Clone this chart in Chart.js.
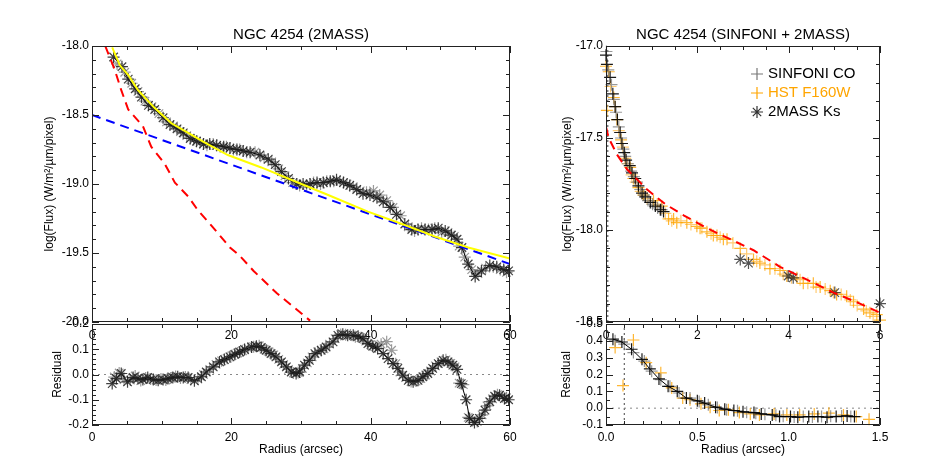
<!DOCTYPE html>
<html lang="en">
<head>
<meta charset="utf-8">
<title>NGC 4254 light profiles</title>
<script src="https://cdn.jsdelivr.net/npm/chart.js@4"></script>
<style>
  body { margin: 0; background: #fff; }
  .wrap { position: relative; width: 926px; height: 463px; }
  .wrap canvas { position: absolute; left: 0; top: 0; width: 926px; height: 463px; }
</style>
</head>
<body>
<div class="wrap">
  <canvas id="leftTop" width="926" height="463"></canvas>
  <canvas id="leftRes" width="926" height="463"></canvas>
  <canvas id="rightTop" width="926" height="463"></canvas>
  <canvas id="rightRes" width="926" height="463"></canvas>
</div>
<script>
// ---- 2MASS profile (left panel), radius in arcsec, log flux ----
const massR  = [3.1,4.3,5.2,6.2,7.1,8.1,9.0,10.2,11.2,12.2,13.1,14.1,15.0,16.0,16.9,17.9,18.9,19.8,20.8,21.7,22.7,24.1,25.3,26.3,27.2,28.2,29.4,30.3,31.3,32.3,33.2,34.2,35.1,36.1,37.0,38.0,38.9,39.9,40.9,41.8,42.8,43.7,44.9,45.9,46.8,47.8,48.8,49.7,50.7,51.6,52.4,53.1,54.0,55.0,55.9,57.1,58.1,59.1,59.8];
const massF  = [-18.08,-18.15,-18.24,-18.31,-18.37,-18.43,-18.46,-18.52,-18.57,-18.60,-18.63,-18.67,-18.69,-18.71,-18.71,-18.72,-18.73,-18.74,-18.75,-18.76,-18.77,-18.79,-18.82,-18.86,-18.91,-18.96,-19.00,-19.00,-19.00,-18.99,-18.99,-18.98,-18.97,-18.99,-19.01,-19.04,-19.07,-19.08,-19.10,-19.13,-19.17,-19.22,-19.29,-19.33,-19.33,-19.33,-19.33,-19.32,-19.34,-19.37,-19.40,-19.46,-19.58,-19.67,-19.63,-19.59,-19.60,-19.62,-19.63];
const massR2 = [3.6,4.7,5.7,6.6,7.6,8.6,9.6,10.7,11.7,12.7,13.6,14.6,15.5,16.5,17.4,18.4,19.3,20.3,21.2,22.2,23.4,24.7,25.8,26.8,27.7,28.8,29.8,30.8,31.8,32.8,33.7,34.7,35.6,36.6,37.5,38.5,39.4,40.4,41.3,42.3,43.2,44.3,45.4,46.3,47.3,48.3,49.2,50.2,51.1,52.0,52.7,53.5,54.5,55.4,56.5,57.6,58.6,59.5];
const massF2 = [-18.13,-18.19,-18.27,-18.33,-18.40,-18.44,-18.49,-18.55,-18.58,-18.62,-18.65,-18.68,-18.70,-18.72,-18.71,-18.73,-18.73,-18.75,-18.75,-18.77,-18.77,-18.81,-18.84,-18.89,-18.94,-18.99,-19.01,-19.01,-18.99,-19.00,-18.98,-18.98,-18.98,-19.00,-19.02,-19.05,-19.06,-19.05,-19.08,-19.12,-19.17,-19.23,-19.31,-19.34,-19.32,-19.33,-19.32,-19.35,-19.35,-19.38,-19.45,-19.53,-19.62,-19.65,-19.61,-19.60,-19.62,-19.64];

// model components (left panel)
const totalR = [2.9,4.0,5.2,6.6,9.0,11.4,13.8,16.2,19.5,24.3,29.1,33.9,39.6,44.5,49.2,54.0,60];
const totalF = [-18.01,-18.14,-18.21,-18.32,-18.45,-18.56,-18.63,-18.70,-18.79,-18.88,-18.98,-19.08,-19.20,-19.29,-19.38,-19.46,-19.54];
const diskR  = [0, 60];
const diskF  = [-18.5, -19.58];
const bulgeR = [1.9,3.25,4.2,5.2,7.3,8.5,10.4,11.9,13.8,15.2,16.6,18.3,19.8,21.2,23.2,26.5,28.9,31.3];
const bulgeF = [-18.0,-18.17,-18.32,-18.46,-18.58,-18.73,-18.85,-18.99,-19.09,-19.19,-19.27,-19.37,-19.46,-19.52,-19.63,-19.79,-19.89,-19.99];

// residuals (left panel)
const resR  = [2.9,3.5,4.2,5.1,5.9,6.6,7.3,8.0,8.8,9.5,10.2,10.9,11.6,12.3,13.1,13.8,14.7,15.7,16.4,17.4,18.3,19.0,19.8,20.5,21.2,21.9,22.9,23.6,24.3,25.0,25.7,26.4,27.2,27.9,28.6,29.3,29.8,30.5,31.2,32.0,32.9,33.6,34.6,35.3,36.0,36.7,37.5,38.2,38.9,39.6,40.3,41.0,41.8,42.5,43.2,43.9,44.6,45.4,46.1,46.8,47.5,48.2,48.9,49.7,50.4,51.1,51.8,52.4,53.0,53.7,54.2,54.9,55.6,56.4,57.1,57.8,58.5,59.2,59.8];
const resV  = [-0.036,-0.016,0.004,-0.029,-0.012,-0.016,-0.020,-0.012,-0.020,-0.023,-0.020,-0.016,-0.012,-0.009,-0.012,-0.012,-0.025,-0.009,0.010,0.030,0.050,0.059,0.070,0.080,0.089,0.099,0.109,0.112,0.107,0.096,0.083,0.070,0.050,0.030,0.010,0.004,0.010,0.037,0.056,0.083,0.096,0.109,0.129,0.155,0.159,0.155,0.155,0.151,0.142,0.122,0.112,0.103,0.083,0.063,0.043,0.024,-0.003,-0.023,-0.029,-0.023,-0.009,0.004,0.024,0.043,0.056,0.050,0.037,0.020,-0.036,-0.100,-0.174,-0.190,-0.174,-0.141,-0.108,-0.086,-0.082,-0.095,-0.100];
const resR2 = [3.2,3.9,4.6,5.5,6.2,7.0,7.7,8.4,9.2,9.9,10.6,11.3,12.0,12.7,13.4,14.2,15.2,16.0,16.9,17.8,18.6,19.4,20.1,20.9,21.6,22.4,23.2,24.0,24.7,25.4,26.1,26.8,27.5,28.2,28.9,29.6,30.2,30.9,31.6,32.4,33.3,34.1,34.9,35.7,36.4,37.1,37.8,38.6,39.3,40.0,40.7,41.5,42.3,43.0,43.6,44.2,45.0,45.8,46.5,47.2,47.9,48.6,49.3,50.1,50.8,51.5,52.1,52.7,53.3,54.0,54.6,55.3,56.0,56.7,57.5,58.2,58.9,59.5];
const resV2 = [-0.010,0.006,-0.020,-0.022,-0.006,-0.024,-0.014,-0.018,-0.022,-0.018,-0.022,-0.014,-0.008,-0.014,-0.010,-0.020,-0.018,0.000,0.020,0.040,0.054,0.064,0.075,0.085,0.094,0.104,0.110,0.114,0.100,0.090,0.078,0.060,0.040,0.020,0.006,0.008,0.024,0.046,0.070,0.090,0.102,0.120,0.142,0.158,0.157,0.156,0.150,0.146,0.132,0.118,0.110,0.120,0.130,0.096,0.043,0.010,-0.012,-0.028,-0.026,-0.016,-0.002,0.014,0.034,0.050,0.058,0.044,0.030,-0.034,-0.040,-0.170,-0.182,-0.186,-0.160,-0.124,-0.096,-0.080,-0.088,-0.092];

// ---- SINFONI + 2MASS (right panel) ----
const sinR  = [0.0,0.02,0.09,0.15,0.2,0.25,0.31,0.35,0.4,0.44,0.52,0.57,0.64,0.71,0.79,0.86,0.97,1.08,1.19,1.26];
const sinF  = [-17.05,-17.10,-17.17,-17.26,-17.33,-17.40,-17.47,-17.53,-17.58,-17.62,-17.65,-17.69,-17.72,-17.76,-17.80,-17.82,-17.85,-17.87,-17.89,-17.90];
const sinR2 = [0.01,0.05,0.12,0.17,0.22,0.28,0.33,0.38,0.42,0.48,0.55,0.61,0.68,0.75,0.83,0.92,1.02,1.13,1.22];
const sinF2 = [-17.03,-17.13,-17.21,-17.29,-17.36,-17.44,-17.50,-17.56,-17.60,-17.64,-17.68,-17.71,-17.74,-17.78,-17.81,-17.84,-17.86,-17.88,-17.89];
const hstR  = [0.0,0.02,0.06,0.17,0.24,0.33,0.42,0.53,0.60,0.71,0.82,1.04,1.22,1.37,1.48,1.55,1.77,1.99,2.06,2.21,2.35,2.43,2.57,2.65,2.94,3.23,3.37,3.59,3.81,3.96,4.18,4.32,4.54,4.69,4.91,5.05,5.27,5.42,5.64,5.78,5.93,6.0];
const hstF  = [-17.11,-17.35,-17.14,-17.28,-17.40,-17.51,-17.61,-17.66,-17.72,-17.77,-17.81,-17.84,-17.87,-17.94,-17.94,-17.96,-17.96,-17.98,-17.99,-18.01,-18.03,-18.03,-18.05,-18.05,-18.10,-18.16,-18.18,-18.21,-18.22,-18.25,-18.26,-18.29,-18.29,-18.31,-18.33,-18.35,-18.36,-18.39,-18.43,-18.45,-18.46,-18.49];
const hstR2 = [0.1,0.2,0.28,0.37,0.47,0.56,0.65,0.76,0.9,1.12,1.3,1.44,1.64,1.86,2.1,2.3,2.5,2.78,3.08,3.3,3.48,3.7,3.88,4.06,4.25,4.42,4.6,4.8,4.98,5.15,5.35,5.5,5.7,5.85];
const hstF2 = [-17.22,-17.33,-17.46,-17.55,-17.64,-17.70,-17.74,-17.79,-17.83,-17.86,-17.91,-17.95,-17.95,-17.97,-17.99,-18.02,-18.04,-18.07,-18.13,-18.17,-18.19,-18.21,-18.24,-18.26,-18.27,-18.29,-18.31,-18.32,-18.34,-18.35,-18.38,-18.41,-18.44,-18.47];
const ksR   = [2.94,3.12,3.99,4.10,5.01,6.0];
const ksF   = [-18.16,-18.18,-18.25,-18.26,-18.34,-18.40];
const fitR  = [0,0.06,0.24,0.46,0.9,1.3,1.7,2.21,2.72,3.23,3.81,4.4,4.98,5.56,6.0];
const fitF  = [-17.44,-17.50,-17.59,-17.67,-17.78,-17.86,-17.92,-17.99,-18.05,-18.11,-18.20,-18.27,-18.34,-18.40,-18.45];

// residuals (right panel)
const rsR   = [0.038,0.087,0.14,0.197,0.24,0.29,0.34,0.39,0.44,0.50,0.54,0.60,0.65,0.70,0.75,0.81,0.85,0.91,0.95,1.01,1.05,1.11,1.16,1.21,1.26,1.32,1.36];
const rsV   = [0.41,0.393,0.35,0.29,0.233,0.174,0.13,0.10,0.06,0.044,0.03,0.006,-0.006,-0.014,-0.022,-0.026,-0.034,-0.04,-0.05,-0.05,-0.054,-0.05,-0.05,-0.054,-0.05,-0.046,-0.05];
const rsR2  = [0.05,0.10,0.15,0.21,0.25,0.30,0.35,0.40,0.46,0.51,0.56,0.61,0.66,0.72,0.77,0.82,0.87,0.93,0.97,1.03,1.08,1.13,1.18,1.23,1.29,1.34];
const rsV2  = [0.40,0.38,0.33,0.28,0.22,0.17,0.13,0.09,0.06,0.04,0.02,0.004,-0.01,-0.016,-0.024,-0.03,-0.036,-0.042,-0.048,-0.052,-0.05,-0.052,-0.05,-0.048,-0.046,-0.05];
const rhR   = [0.05,0.093,0.15,0.22,0.30,0.36,0.42,0.46,0.52,0.57,0.62,0.67,0.73,0.79,0.84,0.92,0.99,1.06,1.14,1.22,1.30,1.37,1.44];
const rhV   = [0.36,0.134,0.405,0.27,0.21,0.12,0.06,0.05,0.026,0.006,-0.014,-0.01,-0.026,-0.034,-0.04,-0.034,-0.04,-0.04,-0.034,-0.03,-0.04,-0.05,-0.066];

// axis ranges / tick steps
const fluxTitle = 'log(Flux) (W/m\u00b2/\u00b5m/pixel)';
const ORANGE = 'rgb(255,165,0)';

Chart.defaults.font.family = '"Liberation Sans", Arial, Helvetica, sans-serif';
Chart.defaults.font.size = 12;
Chart.defaults.color = '#000';

const pts = (xs, ys) => xs.map((x, i) => ({ x: x, y: ys[i] }));
const fmt0 = v => v.toFixed(0);
const fmt1 = v => (Math.abs(v) < 1e-9 ? 0 : v).toFixed(1);

function marks(xs, ys, style, color, line) {
  return {
    data: pts(xs, ys), pointStyle: style, pointRadius: 6, pointBorderWidth: 1.2,
    pointBorderColor: color, pointBackgroundColor: color,
    showLine: !!line, borderColor: line || color, borderWidth: 1, clip: 6
  };
}
function curve(xs, ys, color, dash, width) {
  return {
    data: pts(xs, ys), showLine: true, pointRadius: 0, borderColor: color,
    borderWidth: width || 2, borderDash: dash || []
  };
}

// IDL style box with inward ticks on all four sides
const idlFrame = {
  id: 'idlFrame',
  afterDraw(chart, args, o) {
    const { ctx, chartArea: a } = chart;
    ctx.save();
    ctx.strokeStyle = '#222';
    ctx.lineWidth = 1;
    ctx.beginPath();
    ctx.rect(Math.round(a.left) + 0.5, Math.round(a.top) + 0.5, Math.round(a.width) - 1, Math.round(a.height) - 1);
    const tickMarks = (sc, minor, major, horiz) => {
      const n = Math.round((sc.max - sc.min) / minor);
      for (let i = 0; i <= n; i++) {
        const v = sc.min + i * minor;
        const q = v / major;
        const len = Math.abs(q - Math.round(q)) < 1e-6 ? 7 : 4;
        const p = Math.round(sc.getPixelForValue(v)) + 0.5;
        if (horiz) {
          ctx.moveTo(p, a.bottom); ctx.lineTo(p, a.bottom - len);
          ctx.moveTo(p, a.top); ctx.lineTo(p, a.top + len);
        } else {
          ctx.moveTo(a.left, p); ctx.lineTo(a.left + len, p);
          ctx.moveTo(a.right, p); ctx.lineTo(a.right - len, p);
        }
      }
    };
    tickMarks(chart.scales.x, o.xMinor, o.xMajor, true);
    tickMarks(chart.scales.y, o.yMinor, o.yMajor, false);
    ctx.stroke();
    ctx.restore();
  }
};

// legend drawn inside the plot area
const idlLegend = {
  id: 'idlLegend',
  afterDraw(chart, args, o) {
    if (!o.items) return;
    const { ctx, chartArea: a } = chart;
    ctx.save();
    ctx.font = '15px "Liberation Sans", Arial, sans-serif';
    ctx.textBaseline = 'middle';
    o.items.forEach((it, i) => {
      const x = a.left + o.dx, y = a.top + o.dy + i * o.row;
      ctx.strokeStyle = it.mark;
      ctx.lineWidth = 1.2;
      ctx.beginPath();
      ctx.moveTo(x - 6, y); ctx.lineTo(x + 6, y);
      ctx.moveTo(x, y - 6); ctx.lineTo(x, y + 6);
      if (it.star) {
        ctx.moveTo(x - 4.2, y - 4.2); ctx.lineTo(x + 4.2, y + 4.2);
        ctx.moveTo(x - 4.2, y + 4.2); ctx.lineTo(x + 4.2, y - 4.2);
      }
      ctx.stroke();
      ctx.fillStyle = it.color;
      ctx.fillText(it.text, x + 11, y);
    });
    ctx.restore();
  }
};

function axis(o) {
  return {
    type: 'linear', position: o.pos, min: o.min, max: o.max,
    grid: { display: false, drawTicks: false },
    border: { display: false },
    ticks: { stepSize: o.step, padding: o.pad, callback: o.fmt, autoSkip: false, maxRotation: 0 },
    title: o.title ? { display: true, text: o.title, padding: o.titlePad } : { display: false },
    afterFit: s => { if (o.pos === 'left') s.width = o.size; else s.height = o.size; }
  };
}

function panel(id, p) {
  return new Chart(document.getElementById(id), {
    type: 'scatter',
    data: { datasets: p.datasets },
    options: {
      responsive: false, animation: false, devicePixelRatio: 1,
      layout: { padding: p.padding },
      scales: { x: axis(p.x), y: axis(p.y) },
      plugins: {
        legend: { display: false },
        tooltip: { enabled: false },
        title: p.title
          ? { display: true, text: p.title, fullSize: false, color: '#000',
              font: { size: 15, weight: 'normal' }, padding: { top: 26, bottom: 2 } }
          : { display: false },
        idlFrame: p.frame,
        idlLegend: p.legend || {}
      }
    },
    plugins: [idlFrame, idlLegend]
  });
}

// left: 2MASS profile
panel('leftTop', {
  padding: { left: 0, right: 416, top: 0, bottom: 111 },
  title: 'NGC 4254 (2MASS)',
  x: { pos: 'bottom', min: 0, max: 60, step: 20, fmt: fmt0, pad: 6, size: 30 },
  y: { pos: 'left', min: -20, max: -18, step: 0.5, fmt: fmt1, pad: 3, size: 92,
       title: fluxTitle, titlePad: { top: 42.8, bottom: 0 } },
  frame: { xMinor: 5, xMajor: 20, yMinor: 0.1, yMajor: 0.5 },
  datasets: [
    curve(totalR, totalF, '#ffff00', [], 2),
    curve(bulgeR, bulgeF, '#ff0000', [9, 6], 2),
    curve(diskR, diskF, '#0000ff', [9, 6], 2),
    marks(massR, massF, 'star', 'rgba(30,30,30,0.85)', '#000'),
    marks(massR2, massF2, 'star', 'rgba(120,120,120,0.75)')
  ]
});

panel('leftRes', {
  padding: { left: 0, right: 416, top: 324, bottom: 0 },
  x: { pos: 'bottom', min: 0, max: 60, step: 20, fmt: fmt0, pad: 5, size: 38,
       title: 'Radius (arcsec)', titlePad: { top: 0, bottom: 5.8 } },
  y: { pos: 'left', min: -0.2, max: 0.2, step: 0.1, fmt: fmt1, pad: 3, size: 92,
       title: 'Residual', titlePad: { top: 50.8, bottom: 0 } },
  frame: { xMinor: 5, xMajor: 20, yMinor: 0.02, yMajor: 0.1 },
  datasets: [
    marks(resR, resV, 'star', 'rgba(30,30,30,0.85)', '#000'),
    marks(resR2, resV2, 'star', 'rgba(120,120,120,0.75)'),
    curve([0, 60], [0, 0], '#888', [2, 4], 1)
  ]
});

// right: SINFONI + 2MASS
panel('rightTop', {
  padding: { left: 530, right: 46, top: 0, bottom: 111 },
  title: 'NGC 4254 (SINFONI + 2MASS)',
  x: { pos: 'bottom', min: 0, max: 6, step: 2, fmt: fmt0, pad: 6, size: 30 },
  y: { pos: 'left', min: -18.5, max: -17, step: 0.5, fmt: fmt1, pad: 3, size: 76,
       title: fluxTitle, titlePad: { top: 30.8, bottom: 0 } },
  frame: { xMinor: 0.5, xMajor: 2, yMinor: 0.1, yMajor: 0.5 },
  legend: {
    dx: 151, dy: 28, row: 19,
    items: [
      { text: 'SINFONI CO', color: '#000', mark: '#777' },
      { text: 'HST F160W', color: ORANGE, mark: ORANGE },
      { text: '2MASS Ks', color: '#000', mark: '#333', star: true }
    ]
  },
  datasets: [
    curve(fitR, fitF, '#ff0000', [9, 6], 2),
    marks(ksR, ksF, 'star', 'rgba(40,40,40,0.8)'),
    marks(sinR, sinF, 'cross', 'rgba(0,0,0,0.9)'),
    marks(sinR2, sinF2, 'cross', 'rgba(110,110,110,0.7)'),
    marks(hstR, hstF, 'cross', 'rgba(255,165,0,0.8)'),
    marks(hstR2, hstF2, 'cross', 'rgba(255,175,40,0.65)'),
    curve([0.04, 0.04], [-18.5, -17], '#444', [2, 3], 1)
  ]
});

panel('rightRes', {
  padding: { left: 530, right: 46, top: 324, bottom: 0 },
  x: { pos: 'bottom', min: 0, max: 1.5, step: 0.5, fmt: fmt1, pad: 5, size: 38,
       title: 'Radius (arcsec)', titlePad: { top: 0, bottom: 5.8 } },
  y: { pos: 'left', min: -0.1, max: 0.5, step: 0.1, fmt: fmt1, pad: 3, size: 76,
       title: 'Residual', titlePad: { top: 29.5, bottom: 0 } },
  frame: { xMinor: 0.1, xMajor: 0.5, yMinor: 0.05, yMajor: 0.1 },
  datasets: [
    marks(rsR, rsV, 'cross', 'rgba(0,0,0,0.9)', '#000'),
    marks(rsR2, rsV2, 'cross', 'rgba(110,110,110,0.7)'),
    marks(rhR, rhV, 'cross', 'rgba(255,165,0,0.8)'),
    curve([0, 1.5], [0, 0], '#888', [2, 4], 1),
    curve([0.1, 0.1], [-0.1, 0.5], '#444', [2, 3], 1)
  ]
});
</script>
</body>
</html>
